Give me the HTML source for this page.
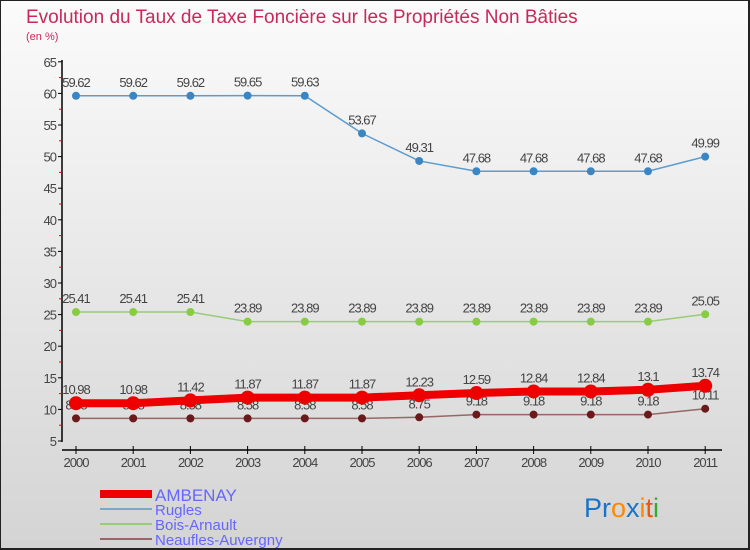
<!DOCTYPE html>
<html><head><meta charset="utf-8"><style>
body{margin:0;}
#wrap{position:relative;width:750px;height:550px;overflow:hidden;background:linear-gradient(#fbfbfb,#d4d4d4);box-sizing:border-box;border-left:1px solid #222;border-top:1px solid #222;border-right:2px solid #222;border-bottom:2px solid #222;font-family:"Liberation Sans",sans-serif;}
svg text{font-family:"Liberation Sans",sans-serif;}
</style></head><body>
<div id="wrap">
<svg id="c" width="750" height="550" style="position:absolute;left:-1px;top:-1px">
<text x="26" y="23" font-size="19" fill="#c8285a">Evolution du Taux de Taxe Foncière sur les Propriétés Non Bâties</text>
<text x="26" y="40" font-size="11" fill="#c8285a">(en %)</text>
<g id="axes"></g>
<g id="series"></g>
<g id="legend">
<rect x="100" y="490" width="52" height="8" fill="#e00"/>
<text x="155" y="501" font-size="17" fill="#6666ff">AMBENAY</text>
<rect x="100" y="508" width="52" height="2" fill="#79a8c8"/>
<text x="155" y="515" font-size="15" fill="#6666ff">Rugles</text>
<rect x="100" y="523" width="52" height="2" fill="#99cc77"/>
<text x="155" y="530" font-size="15" fill="#6666ff">Bois-Arnault</text>
<rect x="100" y="538" width="52" height="2" fill="#996666"/>
<text x="155" y="545" font-size="15" fill="#6666ff">Neaufles-Auvergny</text>
</g>
<text x="584" y="517" font-size="27"><tspan fill="#1a73c8">Pr</tspan><tspan fill="#ff8800">o</tspan><tspan fill="#1a73c8">x</tspan><tspan fill="#ff8800">i</tspan><tspan fill="#ee5500">t</tspan><tspan fill="#33aa33">i</tspan></text>
</svg>
</div>
<script>
const years=["2000","2001","2002","2003","2004","2005","2006","2007","2008","2009","2010","2011"];
const ambenay=[10.98,10.98,11.42,11.87,11.87,11.87,12.23,12.59,12.84,12.84,13.1,13.74];
const rugles=[59.62,59.62,59.62,59.65,59.63,53.67,49.31,47.68,47.68,47.68,47.68,49.99];
const boisArnault=[25.41,25.41,25.41,23.89,23.89,23.89,23.89,23.89,23.89,23.89,23.89,25.05];
const neaufles=[8.58,8.58,8.58,8.58,8.58,8.58,8.75,9.18,9.18,9.18,9.18,10.11];
const yTicks=[5,10,15,20,25,30,35,40,45,50,55,60,65];
const NS="http://www.w3.org/2000/svg";
function X(i){return 76+i*57.2;}
function Y(v){return 441-(v-5)*6.32;}
function mk(t,a,p){const e=document.createElementNS(NS,t);for(const k in a)e.setAttribute(k,a[k]);p.appendChild(e);return e;}
const ax=document.getElementById('axes');
let l=mk('line',{x1:62,y1:60,x2:62,y2:442,stroke:'#000','stroke-width':1.5},ax);


yTicks.forEach(v=>{
 const t=mk('line',{x1:58,y1:Y(v),x2:62,y2:Y(v),stroke:'#000'},ax);
 
 
 if(v<65){const m=mk('line',{x1:59,y1:Y(v+2.5),x2:62,y2:Y(v+2.5),stroke:'#e00'},ax);
 
 }
 const tx=mk('text',{x:56,y:Y(v)+5,'font-size':13,'text-anchor':'end',fill:'#444','letter-spacing':'-1'},ax);
 tx.textContent=v;
 
 
});
l=mk('line',{x1:62,y1:450,x2:722,y2:450,stroke:'#000','stroke-width':1.5},ax);


years.forEach((y,i)=>{
 const t=mk('line',{x1:X(i),y1:446,x2:X(i),y2:454,stroke:'#000'},ax);
 
 
 const tx=mk('text',{x:X(i),y:467,'font-size':13,'text-anchor':'middle',fill:'#444','letter-spacing':'-1'},ax);
 tx.textContent=y;
 
 
});
const sg=document.getElementById('series');
function series(vals,color,w,r,ptColor,name){
 const g=mk('g',{},sg);
 
 
 const pl=mk('polyline',{points:vals.map((v,i)=>X(i)+','+Y(v)).join(' '),fill:'none',stroke:color,'stroke-width':w},g);
 
 
 vals.forEach((v,i)=>{
  const c=mk('circle',{cx:X(i),cy:Y(v),r:r,fill:ptColor},g);
  
  
  const t=mk('text',{x:X(i),y:Y(v)-9,'font-size':13,'text-anchor':'middle',fill:'#444','letter-spacing':'-1'},g);
  t.textContent=v;
  
  
 });
}
series(rugles,'#5b9bd0',1.5,4,'#3a86c4','rugles-series');
series(boisArnault,'#99cc77',1.5,4,'#88cc44','bois-arnault-series');
series(neaufles,'#996666',1.5,4,'#6a1a1a','neaufles-series');
series(ambenay,'#ee0000',8,7,'#ee0000','ambenay-series');
</script>
</body></html>
